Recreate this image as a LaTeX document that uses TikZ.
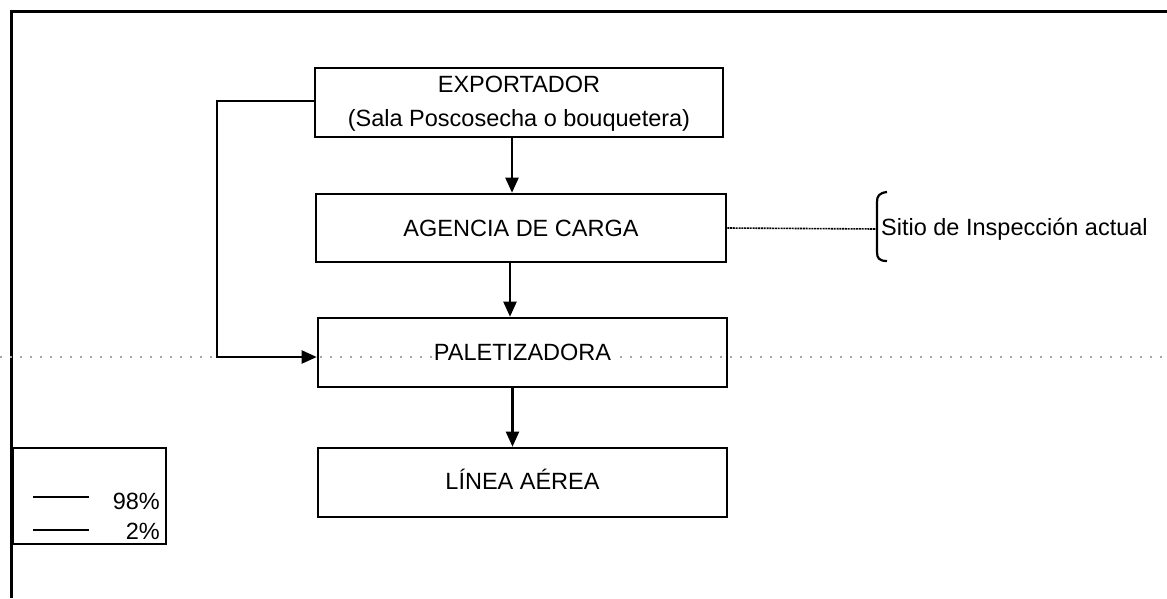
\documentclass[tikz,border=0pt]{standalone}
\usepackage{fontspec}
\setmainfont{Liberation Sans}
\usetikzlibrary{arrows.meta,calc}
\tikzset{
  box/.style={draw,line width=2.6pt,minimum width=409pt,minimum height=69pt,inner sep=0pt},
  txt/.style={font=\fontsize{23.5}{36}\selectfont,inner sep=1pt},
  arr/.style={line width=2.2pt,-{Triangle[length=15pt,width=13pt]}},
  frame/.style={line width=3pt},
  dotline/.style={gray!70,line width=1.3pt,dash pattern=on 1.5pt off 8.5pt},
  link/.style={line width=1.6pt,dash pattern=on 2pt off 0.8pt},
}
\begin{document}
\begin{tikzpicture}[x=1pt,y=-1pt]
\useasboundingbox (0,0) rectangle (1167,598);
% outer frame
\coordinate (ftl) at (11,11);
\coordinate (ftr) at (1167,11);
\coordinate (fbl) at (11,598);
\draw[frame] (ftr) -- (ftl) -- (fbl);
% dotted horizontal line
\coordinate (dl) at (0,357);
\coordinate (dr) at (1167,357);
\draw[dotline] (dl) -- (dr);
% boxes
\node[box,minimum width=408pt] (exp) at (519,102.5) {};
\node[txt] (expt1) at (519,84) {EXPORTADOR};
\node[txt] (expt2) at (519,120) {(Sala Poscosecha o bouquetera)};
\node[box,minimum width=410pt,minimum height=68pt] (ag) at (521,228) {};
\node[txt] (agt) at (521,228) {AGENCIA DE CARGA};
\node[box] (pal) at (522.5,352.5) {};
\node[txt,fill=white] (palt) at (522.5,352.5) {PALETIZADORA};
\node[box] (lin) at (522.5,482.5) {};
\node[txt] (lint) at (522.5,479) {LÍNEA AÉREA};
% arrows
\draw[arr] ([xshift=-7pt]exp.south) -- ([xshift=-7pt]exp.south |- ag.north);
\draw[arr] ([xshift=-11pt]ag.south) -- ([xshift=-11pt]ag.south |- pal.north);
\draw[arr] ([xshift=-10pt]pal.south) -- ([xshift=-10pt]pal.south |- lin.north);
\draw[arr] ([yshift=1.5pt]exp.west) -- ++(-97,0) |- ([yshift=-4.5pt]pal.west);
% inspection site
\coordinate (br) at (877,229);
\draw[link] (ag.east) -- (br);
\draw[line width=2.2pt] (887,192) .. controls (879,193) and (877,196) .. (877,202) -- (877,252) .. controls (877,258) and (879,261) .. (887,261);
\node[txt,anchor=west] (sitio) at (880,229) {Sitio de Inspección actual};
% legend
\node[draw,line width=2.4pt,minimum width=153pt,minimum height=96pt,inner sep=0pt] (leg) at (89.5,496) {};
\coordinate (l1a) at (33,497);
\coordinate (l1b) at (89,497);
\coordinate (l2a) at (33,530);
\coordinate (l2b) at (89,530);
\draw[line width=1.8pt] (l1a) -- (l1b);
\draw[line width=1.8pt] (l2a) -- (l2b);
\node[txt,anchor=east] (p98) at (161,501) {98\%};
\node[txt,anchor=east] (p2) at (161,531) {2\%};
\end{tikzpicture}
\end{document}
